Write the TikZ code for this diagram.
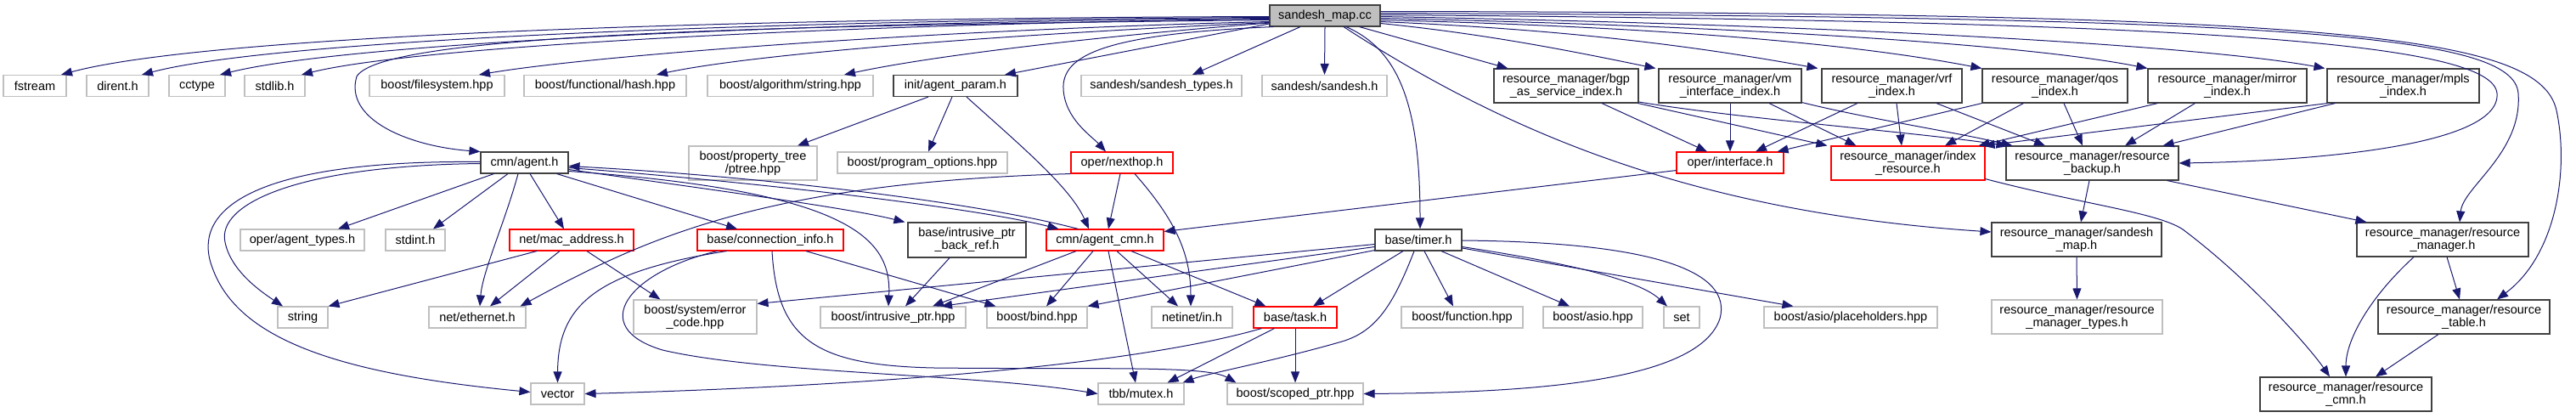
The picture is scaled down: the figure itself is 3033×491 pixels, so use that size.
\documentclass[tikz,border=0pt]{standalone}
\usepackage{fontspec}
\setmainfont{Liberation Sans}
\usetikzlibrary{arrows.meta,calc}
\definecolor{edgeblue}{HTML}{191970}
\definecolor{boxgray}{HTML}{BFBFBF}
\definecolor{boxdark}{HTML}{404040}
\definecolor{boxred}{HTML}{FF0000}
\definecolor{rootgray}{HTML}{BFBFBF}
\tikzset{
  nd/.style={draw=boxgray, fill=white, line width=1.1pt, inner sep=0pt, align=center,
    font=\fontsize{14.5}{15}\selectfont, minimum height=25pt},
  nb/.style={nd, draw=boxdark},
  nr/.style={nd, draw=boxred},
  nroot/.style={nd, draw=boxdark, fill=rootgray},
  mw/.style={minimum width=#1pt},
  tall/.style={minimum height=40pt},
  ed/.style={draw=edgeblue, line width=1pt, -{Triangle[length=13pt,width=10pt]}}
}
\begin{document}
\begin{tikzpicture}[x=1pt,y=-1pt]
\useasboundingbox (0,0) rectangle (3033,491);
% ---------- nodes ----------
\node[nroot, mw=130] (S) at (1560,18.5) {sandesh\_map.cc};
% row 1
\node[nd, mw=74] (fst) at (41,101) {fstream};
\node[nd, mw=73] (dir) at (138.5,101) {dirent.h};
\node[nd, mw=66] (cct) at (232,101) {cctype};
\node[nd, mw=71] (stl) at (323.5,101) {stdlib.h};
\node[nd, mw=159] (fsys) at (514.5,101) {boost/filesystem.hpp};
\node[nd, mw=191] (hsh) at (712.5,101) {boost/functional/hash.hpp};
\node[nd, mw=195] (alg) at (930.5,101) {boost/algorithm/string.hpp};
\node[nb, mw=146] (apar) at (1125,101) {init/agent\_param.h};
\node[nd, mw=189] (stypes) at (1367.5,101) {sandesh/sandesh\_types.h};
\node[nd, mw=147] (sdh) at (1559.5,101) {sandesh/sandesh.h};
\node[nb, mw=170, tall] (bgp) at (1844,101) {resource\_manager/bgp\\\_as\_service\_index.h};
\node[nb, mw=168, tall] (vmi) at (2037,101) {resource\_manager/vm\\\_interface\_index.h};
\node[nb, mw=165, tall] (vrf) at (2227.5,101) {resource\_manager/vrf\\\_index.h};
\node[nb, mw=171, tall] (qos) at (2419.5,101) {resource\_manager/qos\\\_index.h};
\node[nb, mw=187, tall] (mir) at (2622.5,101) {resource\_manager/mirror\\\_index.h};
\node[nb, mw=179, tall] (mpl) at (2829.5,101) {resource\_manager/mpls\\\_index.h};
% row 2
\node[nb, mw=103] (ag) at (617.5,191.5) {cmn/agent.h};
\node[nd, mw=151, tall] (ptr) at (886.5,192) {boost/property\_tree\\/ptree.hpp};
\node[nd, mw=200] (popt) at (1086,191.5) {boost/program\_options.hpp};
\node[nr, mw=120] (nh) at (1321,191.5) {oper/nexthop.h};
\node[nr, mw=126] (intf) at (2037,191.5) {oper/interface.h};
\node[nr, mw=181, tall] (ires) at (2246.5,192) {resource\_manager/index\\\_resource.h};
\node[nb, mw=203, tall] (rbak) at (2463.5,192) {resource\_manager/resource\\\_backup.h};
% row 3
\node[nd, mw=146] (atyp) at (356,282.5) {oper/agent\_types.h};
\node[nd, mw=70] (sint) at (489,282.5) {stdint.h};
\node[nr, mw=146] (mac) at (673,282.5) {net/mac\_address.h};
\node[nr, mw=172] (conn) at (907,282.5) {base/connection\_info.h};
\node[nb, mw=139, minimum height=41pt] (ibr) at (1138.5,282.5) {base/intrusive\_ptr\\\_back\_ref.h};
\node[nr, mw=138] (acmn) at (1301,282.5) {cmn/agent\_cmn.h};
\node[nb, mw=102] (tmr) at (1670,282.5) {base/timer.h};
\node[nb, mw=200, tall] (rsm) at (2445,282) {resource\_manager/sandesh\\\_map.h};
\node[nb, mw=202, tall] (rmg) at (2876,282) {resource\_manager/resource\\\_manager.h};
% row 4
\node[nd, mw=59] (str) at (356.5,373.5) {string};
\node[nd, mw=114] (eth) at (562,373.5) {net/ethernet.h};
\node[nd, mw=145, tall] (err) at (818.5,373) {boost/system/error\\\_code.hpp};
\node[nd, mw=171] (iptr) at (1051.5,373.5) {boost/intrusive\_ptr.hpp};
\node[nd, mw=118] (bnd) at (1221,373.5) {boost/bind.hpp};
\node[nd, mw=95] (nin) at (1403.5,373.5) {netinet/in.h};
\node[nr, mw=98] (tsk) at (1525,373.5) {base/task.h};
\node[nd, mw=143] (fun) at (1721.5,373.5) {boost/function.hpp};
\node[nd, mw=117] (asio) at (1875.5,373.5) {boost/asio.hpp};
\node[nd, mw=42] (setn) at (1980,373.5) {set};
\node[nd, mw=204] (plh) at (2179,373.5) {boost/asio/placeholders.hpp};
\node[nd, mw=201, tall] (rmt) at (2445.5,373) {resource\_manager/resource\\\_manager\_types.h};
\node[nb, mw=202, tall] (rtb) at (2901,373) {resource\_manager/resource\\\_table.h};
% row 5
\node[nd, mw=63] (vec) at (656.5,463.5) {vector};
\node[nd, mw=101] (mtx) at (1343.5,463.5) {tbb/mutex.h};
\node[nd, mw=160] (sptr) at (1525,463.5) {boost/scoped\_ptr.hpp};
\node[nb, mw=202, tall] (rcm) at (2762,464) {resource\_manager/resource\\\_cmn.h};
% ---------- edges from root ----------
\draw[ed] ($(S.west)+(0,1)$) .. controls (900,21) and (250,40) .. ($(fst.north)+(31,0)$);
\draw[ed] ($(S.west)+(0,2)$) .. controls (950,23) and (330,45) .. ($(dir.north)+(28.5,0)$);
\draw[ed] ($(S.west)+(0,3)$) .. controls (1000,25) and (420,48) .. ($(cct.north)+(27,0)$);
\draw[ed] ($(S.west)+(0,4)$) .. controls (1050,27) and (500,52) .. ($(stl.north)+(31.5,0)$);
\draw[ed] ($(S.west)+(0,5)$) .. controls (900,30) and (450,40) .. (420,90) .. controls (405,140) and (480,172) .. (ag.north west);
\draw[ed] ($(S.west)+(0,7)$) .. controls (1100,35) and (700,65) .. ($(fsys.north)+(49.5,0)$);
\draw[ed] ($(S.west)+(0,8)$) .. controls (1150,42) and (880,65) .. ($(hsh.north)+(60.5,0)$);
\draw[ed] ($(S.west)+(0,8.5)$) .. controls (1300,42) and (1100,65) .. ($(alg.north)+(63.5,0)$);
\draw[ed] ($(S.west)+(0,9.5)$) -- ($(apar.north)+(58,0)$);
\draw[ed] ($(S.south west)+(5,0)$) .. controls (1300,40) and (1250,65) .. (1252,105) .. controls (1254,140) and (1285,160) .. ($(nh.north)+(-19,0)$);
\draw[ed] ($(S.south)+(-29,0)$) -- ($(stypes.north)+(36.5,0)$);
\draw[ed] (S.south) -- (sdh.north);
\draw[ed] ($(S.south)+(25,0)$) .. controls (1650,60) and (1672,130) .. ($(tmr.north)+(2,0)$);
\draw[ed] ($(S.south)+(22,0)$) .. controls (1780,160) and (2000,250) .. ($(rsm.west)+(0,-9)$);
\draw[ed] ($(S.south east)+(-25,0)$) -- ($(bgp.north west)+(17,0)$);
\draw[ed] ($(S.east)+(0,9)$) .. controls (1750,40) and (1850,60) .. ($(vmi.north west)+(-3,0)$);
\draw[ed] ($(S.east)+(0,7)$) .. controls (1850,35) and (2000,55) .. ($(vrf.north west)+(-4,0)$);
\draw[ed] ($(S.east)+(0,5)$) .. controls (2000,33) and (2200,55) .. (qos.north west);
\draw[ed] ($(S.east)+(0,3)$) .. controls (2100,32) and (2400,55) .. (mir.north west);
\draw[ed] ($(S.east)+(0,1)$) .. controls (2200,30) and (2600,55) .. ($(mpl.north west)+(-2,0)$);
\draw[ed] ($(S.east)+(0,-1)$) .. controls (2600,25) and (2935,50) .. (2940,110) .. controls (2945,175) and (2700,190) .. (rbak.east);
\draw[ed] ($(S.east)+(0,-3)$) .. controls (2700,20) and (2960,40) .. (2965,110) .. controls (2970,180) and (2900,220) .. ($(rmg.north)+(20,0)$);
\draw[ed] ($(S.east)+(0,-5)$) .. controls (2750,15) and (2990,40) .. (3010,130) .. controls (3025,200) and (3010,300) .. ($(rtb.north)+(39,0)$);
% ---------- cmn/agent.h ----------
\draw[ed] ($(ag.south)+(-36,0)$) -- ($(atyp.north)+(42,0)$);
\draw[ed] ($(ag.south)+(-19.5,0)$) -- ($(sint.north)+(21,0)$);
\draw[ed] ($(ag.south)+(-7.5,0)$) .. controls (595,260) and (568,320) .. ($(eth.north)+(3,0)$);
\draw[ed] ($(ag.south)+(6.5,0)$) -- ($(mac.north)+(-9,0)$);
\draw[ed] ($(ag.south east)+(-14,0)$) -- ($(conn.north)+(-39,0)$);
\draw[ed] ($(ag.east)+(0,8)$) .. controls (850,225) and (1000,245) .. ($(ibr.north west)+(-3,0)$);
\draw[ed] ($(ag.east)+(0,6)$) .. controls (900,215) and (1150,245) .. ($(acmn.north west)+(15,0)$);
\draw[ed] ($(acmn.north west)+(38,0)$) .. controls (1150,238) and (900,208) .. ($(ag.east)+(0,4)$);
\draw[ed] ($(ag.east)+(0,10)$) .. controls (1000,225) and (1050,280) .. ($(iptr.north)+(-5.5,0)$);
\draw[ed] ($(ag.west)+(0,1)$) .. controls (350,195) and (255,240) .. (265,285) .. controls (272,320) and (310,345) .. ($(str.north)+(-23.5,0)$);
\draw[ed] ($(ag.west)+(0,-1)$) .. controls (290,188) and (225,250) .. (250,315) .. controls (280,400) and (400,440) .. ($(vec.west)+(0,-2)$);
% ---------- net/mac_address.h ----------
\draw[ed] ($(mac.south)+(-41,0)$) -- (str.north east);
\draw[ed] ($(mac.south)+(-14,0)$) -- ($(eth.north)+(15,0)$);
\draw[ed] ($(mac.south)+(18,0)$) -- ($(err.north west)+(32,0)$);
% ---------- oper/nexthop.h ----------
\draw[ed] ($(nh.south)+(-2,0)$) -- ($(acmn.north)+(4,0)$);
\draw[ed] ($(nh.south)+(15,0)$) .. controls (1385,260) and (1402,300) .. ($(nin.north)+(-1.5,0)$);
\draw[ed] (nh.south west) .. controls (900,215) and (760,280) .. ($(eth.north east)+(-7,0)$);
% ---------- init/agent_param.h ----------
\draw[ed] ($(apar.south)+(-32,0)$) -- ($(ptr.north)+(52.5,0)$);
\draw[ed] ($(apar.south)+(-4,0)$) -- ($(popt.north)+(7,0)$);
\draw[ed] ($(apar.south)+(13,0)$) .. controls (1200,170) and (1260,220) .. ($(acmn.north)+(-19,0)$);
% ---------- base/connection_info.h ----------
\draw[ed] ($(conn.south west)+(35,0)$) .. controls (700,320) and (657,360) .. (vec.north);
\draw[ed] ($(conn.south west)+(24,0)$) .. controls (740,320) and (690,385) .. (780,412) .. controls (900,440) and (1150,440) .. (mtx.west);
\draw[ed] ($(conn.south)+(42,0)$) -- ($(bnd.north west)+(11,0)$);
\draw[ed] ($(conn.south)+(2,0)$) .. controls (915,400) and (960,430) .. (1100,433) .. controls (1300,435) and (1420,430) .. ($(sptr.north west)+(11,0)$);
% ---------- base/intrusive_ptr_back_ref.h ----------
\draw[ed] ($(ibr.south)+(-20.5,0)$) -- ($(iptr.north)+(14.5,0)$);
% ---------- cmn/agent_cmn.h ----------
\draw[ed] ($(acmn.south)+(-34,0)$) -- ($(iptr.north)+(46.5,0)$);
\draw[ed] ($(acmn.south)+(-14,0)$) -- ($(bnd.north)+(11,0)$);
\draw[ed] ($(acmn.south)+(14,0)$) -- ($(nin.north)+(-16.5,0)$);
\draw[ed] ($(acmn.south)+(4,0)$) -- ($(mtx.north)+(-6.5,0)$);
\draw[ed] ($(acmn.south)+(31,0)$) -- ($(tsk.north west)+(15,0)$);
% ---------- oper/interface.h ----------
\draw[ed] ($(intf.south west)+(0,-4)$) -- ($(acmn.east)+(0,-10)$);
% ---------- base/timer.h ----------
\draw[ed] ($(tmr.west)+(0,5)$) -- ($(err.north east)+(0,5)$);
\draw[ed] ($(tmr.west)+(0,8)$) -- ($(iptr.north)+(56.5,0)$);
\draw[ed] ($(tmr.south west)+(0,-1)$) -- (bnd.north east);
\draw[ed] ($(tmr.south)+(-18,0)$) -- ($(tsk.north)+(21,0)$);
\draw[ed] ($(tmr.south)+(-5,0)$) .. controls (1640,360) and (1620,390) .. (1580,402) .. controls (1500,425) and (1420,440) .. ($(mtx.north east)+(-2,0)$);
\draw[ed] ($(tmr.south)+(7,0)$) -- ($(fun.north)+(-10.5,0)$);
\draw[ed] ($(tmr.south)+(27,0)$) -- ($(asio.north)+(-27.5,0)$);
\draw[ed] ($(tmr.east)+(0,8)$) .. controls (1850,310) and (1930,330) .. ($(setn.north)+(-17,0)$);
\draw[ed] ($(tmr.east)+(0,9.5)$) -- ($(plh.north west)+(35,0)$);
\draw[ed] ($(tmr.east)+(0,0.5)$) .. controls (1950,285) and (2040,320) .. (2025,375) .. controls (2000,450) and (1800,462) .. (sptr.east);
% ---------- base/task.h ----------
\draw[ed] ($(tsk.south west)+(10,0)$) .. controls (1300,440) and (900,458) .. (vec.east);
\draw[ed] ($(tsk.south west)+(25,0)$) -- ($(mtx.north east)+(-20,0)$);
\draw[ed] (tsk.south) -- (sptr.north);
% ---------- resource_manager index headers ----------
\draw[ed] ($(bgp.south)+(42,0)$) -- ($(intf.north)+(-27,0)$);
\draw[ed] ($(bgp.south east)+(-1,0)$) -- ($(ires.north west)+(-4,0)$);
\draw[ed] ($(bgp.east)+(0,19)$) .. controls (2050,140) and (2250,155) .. ($(rbak.north west)+(2,0)$);
\draw[ed] (vmi.south) -- (intf.north);
\draw[ed] ($(vmi.south)+(46,0)$) -- ($(ires.north west)+(30,0)$);
\draw[ed] ($(vmi.south east)+(0,-1)$) .. controls (2200,140) and (2300,155) .. ($(rbak.north west)+(8,0)$);
\draw[ed] ($(vrf.south)+(-40.5,0)$) -- ($(intf.north)+(30,0)$);
\draw[ed] ($(vrf.south)+(5.5,0)$) -- ($(ires.north)+(-7.5,0)$);
\draw[ed] ($(vrf.south)+(52.5,0)$) -- ($(rbak.north)+(-55.5,0)$);
\draw[ed] (qos.south west) -- ($(intf.north east)+(-8,0)$);
\draw[ed] ($(qos.south west)+(49,0)$) -- ($(ires.north)+(43.5,0)$);
\draw[ed] ($(qos.south)+(10.5,0)$) -- ($(rbak.north)+(-11.5,0)$);
\draw[ed] ($(mir.south west)+(12,0)$) -- ($(ires.north east)+(-8,0)$);
\draw[ed] ($(mir.south west)+(56,0)$) -- ($(rbak.north)+(38.5,0)$);
\draw[ed] ($(mpl.south west)+(1,0)$) -- ($(ires.north east)+(-2,0)$);
\draw[ed] ($(mpl.south west)+(10,0)$) -- ($(rbak.north east)+(-19,0)$);
% ---------- resource manager internals ----------
\draw[ed] ($(ires.south east)+(0,-2)$) .. controls (2450,240) and (2540,250) .. (2570,270) .. controls (2650,330) and (2720,410) .. ($(rcm.north)+(-19,0)$);
\draw[ed] ($(rbak.south)+(-3.5,0)$) -- ($(rsm.north)+(5,0)$);
\draw[ed] ($(rbak.south east)+(-14,0)$) -- ($(rmg.north west)+(12,0)$);
\draw[ed] (rsm.south) -- (rmt.north);
\draw[ed] ($(rmg.south)+(5,0)$) -- ($(rtb.north)+(-5,0)$);
\draw[ed] ($(rmg.south)+(-34,0)$) .. controls (2790,350) and (2762,400) .. (rcm.north);
\draw[ed] ($(rtb.south)+(-30,0)$) -- ($(rcm.north)+(35,0)$);
\end{tikzpicture}
\end{document}
